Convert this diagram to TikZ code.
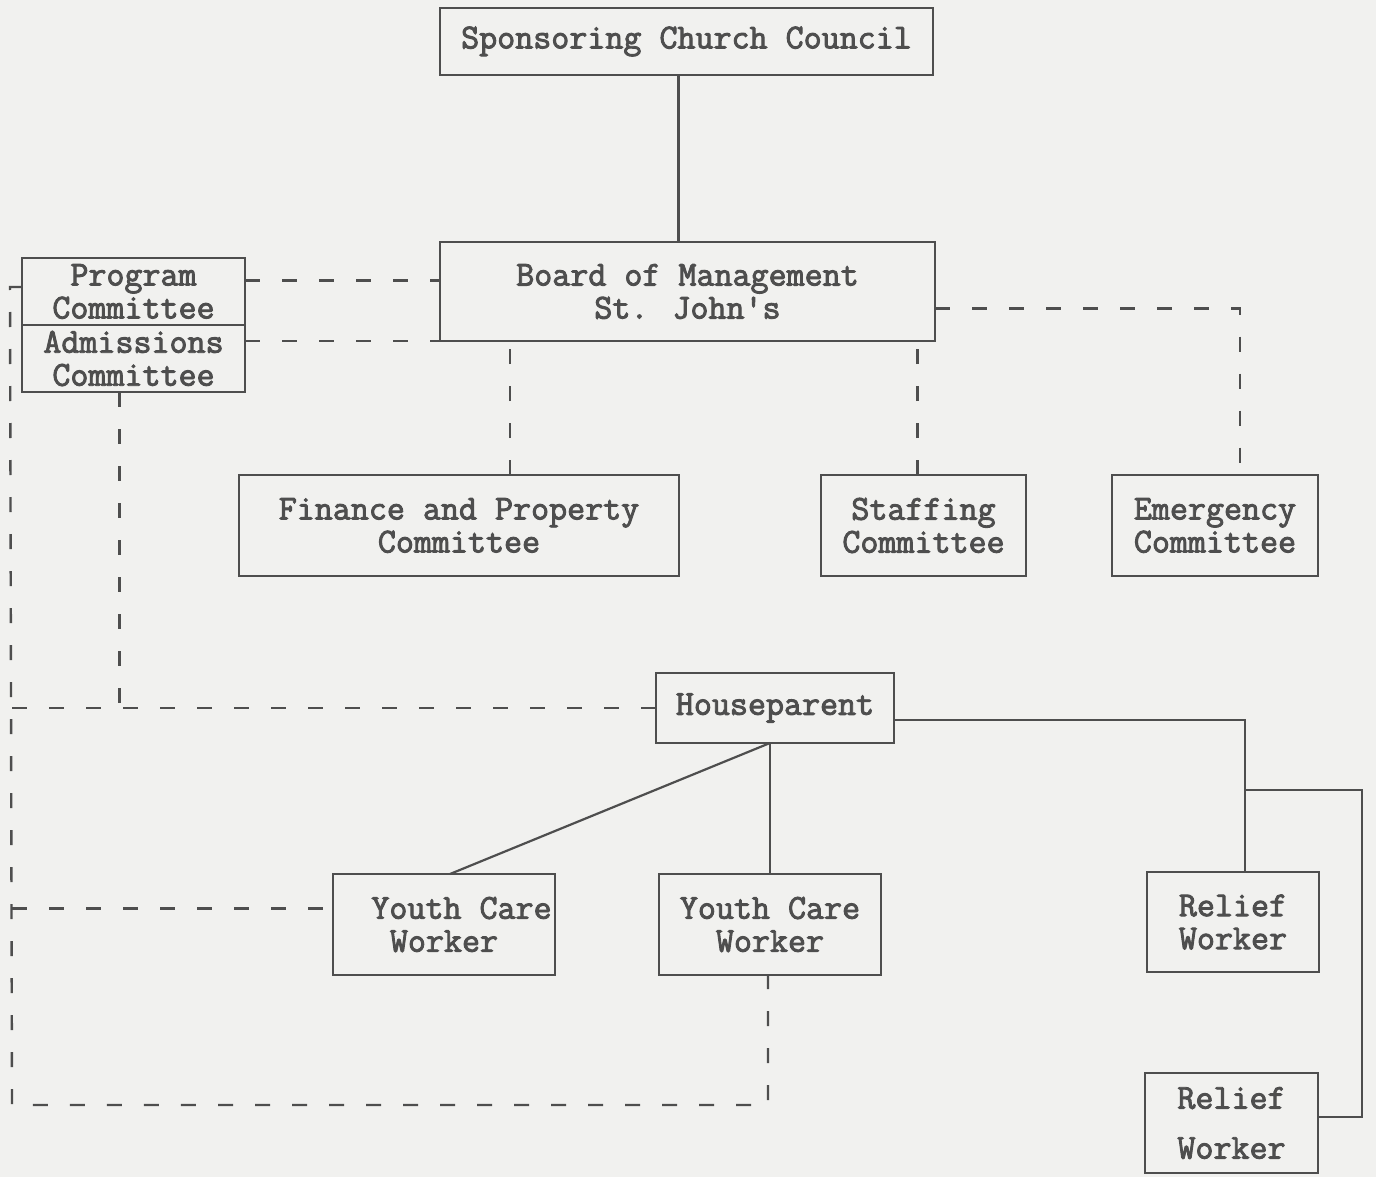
\documentclass[tikz,border=0pt]{standalone}
\usepackage{fontspec}
\newfontfamily\typewriter{Latin Modern Mono}[FakeBold=2.6]
\usepackage{tikz}
\usetikzlibrary{positioning}
\definecolor{ink}{RGB}{78,78,78}
\definecolor{paper}{RGB}{241,241,239}
\tikzset{
  box/.style={rectangle, draw=ink, text=ink, align=center,
    inner sep=2pt, outer sep=0pt, line width=2.4pt,
    font=\typewriter\fontsize{35}{33}\selectfont},
  solidline/.style={draw=ink, line width=2.2pt},
  dashline/.style={draw=ink, line width=2.4pt, dash pattern=on 15pt off 22pt}
}

\begin{document}
\begin{tikzpicture}[x=1pt, y=-1pt]
  \fill[paper] (0,0) rectangle (1376,1177);
  \useasboundingbox (0,0) rectangle (1376,1177);
  % Council and board
  \node[box, minimum width=493pt, minimum height=67pt] (scc) at (686.5,41.5) {Sponsoring Church Council};
  \node[box, minimum width=495pt, minimum height=99pt] (bom) at (687.5,291.5) {Board of Management\\St. John's};
  % Program / admissions
  \node[box, minimum width=223pt, minimum height=67pt] (prog) at (133.5,291.5) {Program\\Committee};
  \node[box, minimum width=223pt, minimum height=67pt, below=0pt of prog] (adm) {Admissions\\Committee};
  % Committees
  \node[box, minimum width=440pt, minimum height=101pt] (fin) at (459,525.5) {Finance and Property\\Committee};
  \node[box, minimum width=205pt, minimum height=101pt] (stf) at (923.5,525.5) {Staffing\\Committee};
  \node[box, minimum width=206pt, minimum height=101pt] (em) at (1215,525.5) {Emergency\\Committee};
  % Staff
  \node[box, minimum width=238pt, minimum height=70pt] (hp) at (775,708) {Houseparent};
  \node[box, minimum width=222pt, minimum height=101pt] (ycw1) at (444,924.5) {\hspace*{1em}Youth Care\\Worker};
  \node[box, minimum width=222pt, minimum height=101pt] (ycw2) at (770,924.5) {Youth Care\\Worker};
  \node[box, minimum width=172pt, minimum height=100pt] (rw1) at (1233,922) {Relief\\Worker};
  \node[box, minimum width=173pt, minimum height=100pt] (rw2) at (1231.5,1123) {Relief\\[17pt]Worker};
  % Loose ends
  \coordinate (lefttop) at (10,287);
  \coordinate (leftbot) at (12,1105);
  \coordinate (brk) at (1245,790);
  \coordinate (brkr) at (1362,790);
  \coordinate (sccout) at ([xshift=-8pt]scc.south);
  \coordinate (progout) at ([yshift=11pt]prog.east);
  \coordinate (bomout) at ([yshift=-17pt]bom.east);
  \coordinate (fincol) at ([xshift=51pt]fin.north);
  \coordinate (stfcol) at ([xshift=-6pt]stf.north);
  \coordinate (emin) at ([xshift=25pt]em.north);
  \coordinate (admout) at ([xshift=-14pt]adm.south);
  \coordinate (ycwin) at ([yshift=16pt]ycw1.west);
  \coordinate (ycwout) at ([xshift=-2pt]ycw2.south);
  \coordinate (hpout) at ([yshift=-12pt]hp.east);
  \coordinate (rwin) at ([xshift=12pt]rw1.north);
  \coordinate (rwside) at ([yshift=6pt]rw2.east);
  % Solid lines
  \draw[solidline] (sccout) -- (sccout |- bom.north);
  \draw[solidline] (ycw2.north) -- (ycw2.north |- hp.south);
  \draw[solidline] (ycw2.north |- hp.south) -- ([xshift=6pt]ycw1.north);
  \draw[solidline] (hpout) -| (rwin);
  \draw[solidline] (brk) -- (brkr) |- (rwside);
  % Dashed lines
  \draw[dashline] (progout) -- (progout -| bom.west);
  \draw[dashline] (adm.east |- bom.south) -- (bom.south west);
  \draw[dashline] (fincol) -- (fincol |- bom.south);
  \draw[dashline] (stfcol) -- (stfcol |- bom.south);
  \draw[dashline] (bomout) -| (emin);
  \draw[dashline] (admout) -- (admout |- hp.west);
  \draw[dashline] (prog.west |- lefttop) -- (lefttop) -- (leftbot) -| (ycwout);
  \draw[dashline] (leftbot |- hp.west) -- (hp.west);
  \draw[dashline] (leftbot |- ycwin) -- (ycwin);
\end{tikzpicture}
\end{document}
